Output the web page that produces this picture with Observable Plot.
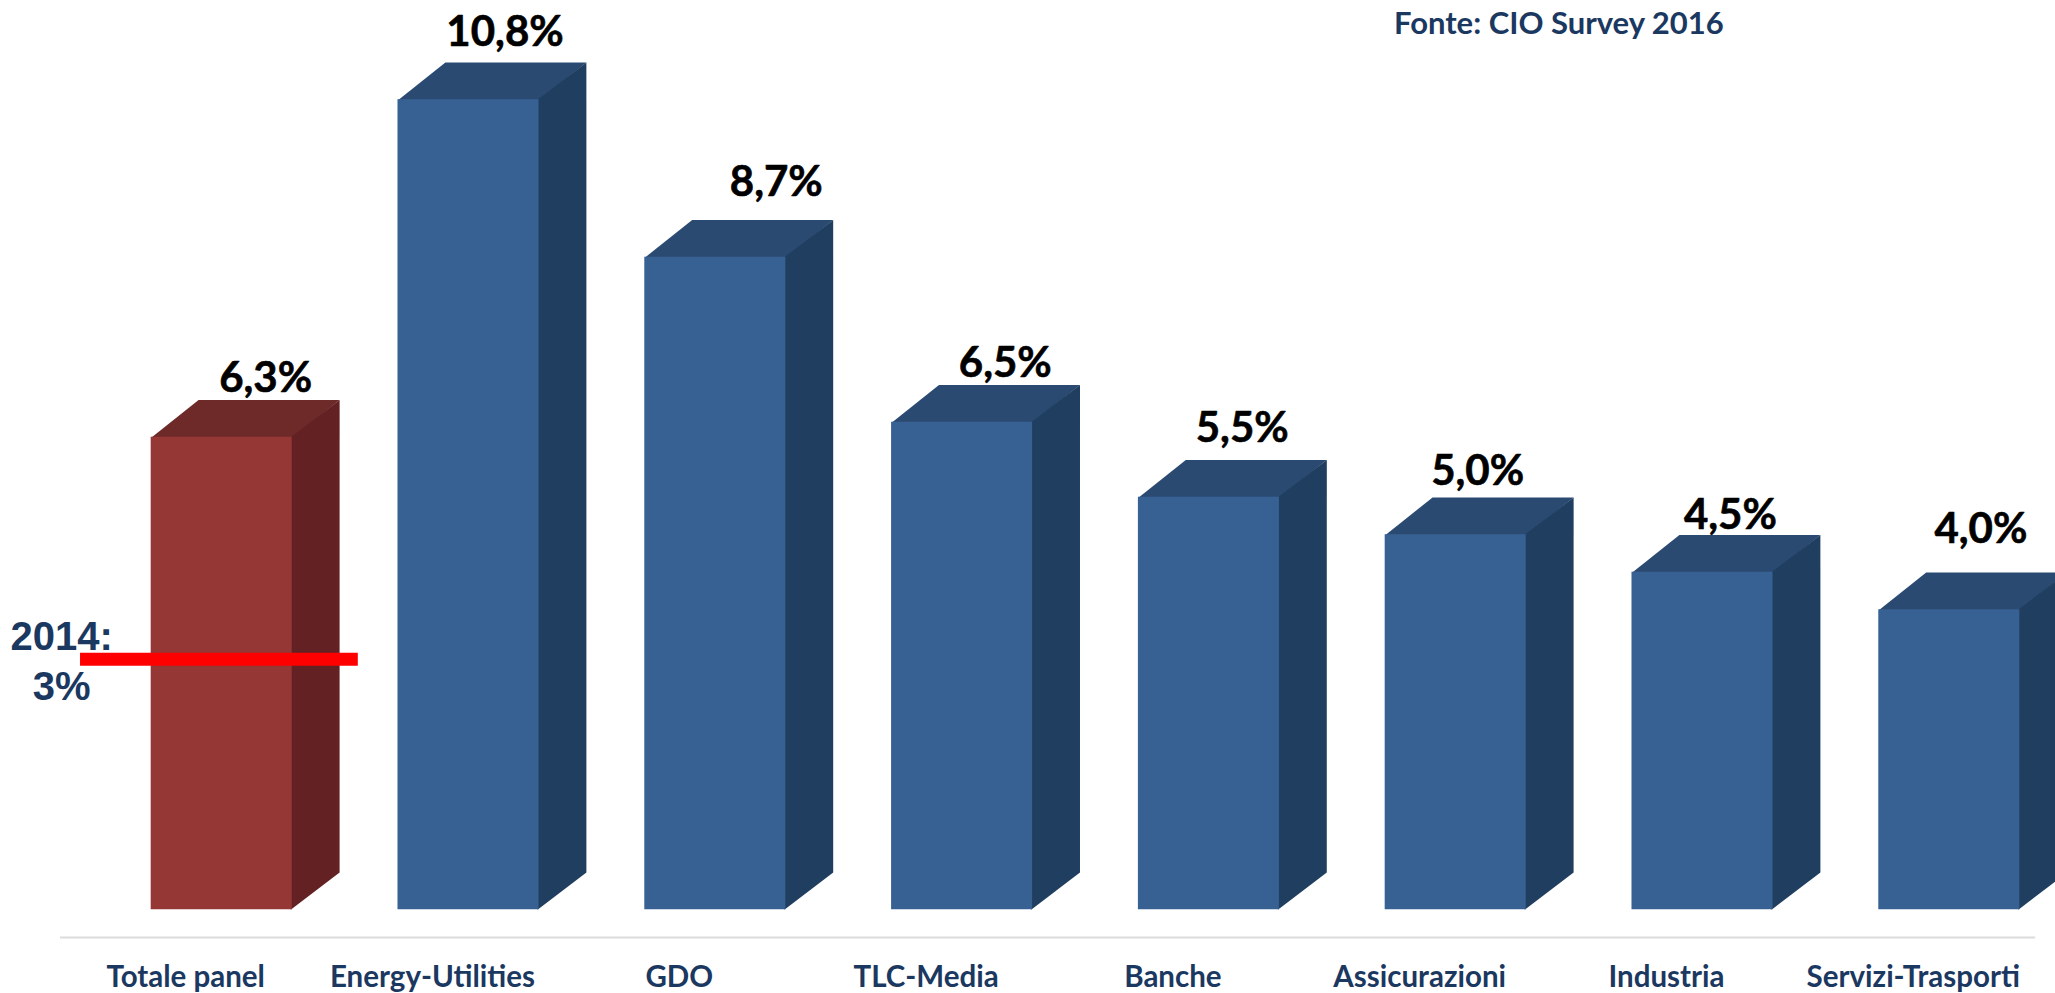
<!DOCTYPE html>
<html>
<head>
<meta charset="utf-8">
<script src="https://cdn.jsdelivr.net/npm/d3@7"></script>
<script src="https://cdn.jsdelivr.net/npm/@observablehq/plot@0.6"></script>
<style>
html,body{margin:0;padding:0;background:#fff;overflow:hidden}
svg{display:block}
</style>
</head>
<body>
<script>
const categories = ["Totale panel","Energy-Utilities","GDO","TLC-Media","Banche","Assicurazioni","Industria","Servizi-Trasporti"];
const values = [6.3,10.8,8.7,6.5,5.5,5.0,4.5,4.0];
const valueLabels = ["6,3%","10,8%","8,7%","6,5%","5,5%","5,0%","4,5%","4,0%"];
const previousLabel = "2014:\n3%";
const previousLevel = 3.34;
const source = "Fonte: CIO Survey 2016";

// Drawing parameters, in scale units
const halfBar = 0.2857, depthX = 0.192, depthY = 0.497, overlap = 0.006;
const labelShiftX = [.178,.148,.247,.175,.135,.089,.113,.128];
const labelShiftY = [.60,.71,.82,.60,.74,.66,.58,.89];

const FRONT = ["#953735","#386193"], TOP = ["#6e2a28","#2b4a72"], SIDE = ["#632123","#203e5f"];
const NAVY = "#1b3861";
const col = (arr,i) => arr[i === 0 ? 0 : 1];

const table = values.map((v,i)=>({i,v,name:categories[i],label:valueLabels[i]}));

const faces = [];
table.forEach(({i,v})=>{
  const l=i-halfBar, r=i+halfBar;
  [[l,v-overlap],[r,v-overlap],[r+depthX,v+depthY],[l+depthX,v+depthY]].forEach(([x,y])=>faces.push({id:"t"+i,x,y,c:col(TOP,i)}));
  [[r-overlap,0],[r-overlap,v],[r+depthX,v+depthY],[r+depthX,depthY]].forEach(([x,y])=>faces.push({id:"s"+i,x,y,c:col(SIDE,i)}));
});

const chart = Plot.plot({
  width:2055, height:993,
  marginTop:0, marginBottom:56, marginLeft:0, marginRight:0,
  style:{background:"#fff",overflow:"hidden"},
  x:{type:"linear",domain:[-0.5,7.5],range:[97.8,2072.2],axis:null},
  y:{type:"linear",domain:[-0.37,12.123],range:[937,0],axis:null},
  color:{type:"identity"},
  marks:[
    Plot.ruleY([-0.37],{x1:-0.653,x2:7.35,stroke:"#dcdcdc",strokeWidth:2}),
    Plot.axisX({
      anchor:"bottom", ticks:d3.range(8), tickSize:0, tickPadding:29, dx:-36, label:null,
      tickFormat:i=>categories[i], fontSize:29.5, fontWeight:700, fontFamily:"Lato", fill:NAVY
    }),
    Plot.line(faces,{x:"x",y:"y",z:"id",fill:"c",stroke:"none"}),
    Plot.rectY(table,{
      x1:d=>d.i-halfBar, x2:d=>d.i+halfBar, y1:0, y2:"v",
      fill:d=>col(FRONT,d.i)
    }),
    Plot.text(table,{
      x:d=>d.i+labelShiftX[d.i], y:d=>d.v+labelShiftY[d.i], text:"label",
      lineAnchor:"bottom", fontFamily:"Lato", fontWeight:700, fontSize:42,
      fill:"#000", stroke:"#000", strokeWidth:0.6
    }),
    Plot.text([previousLabel],{
      x:-0.648, y:3.34, text:d=>d, lineAnchor:"middle", lineHeight:1.23,
      fontFamily:"Liberation Sans", fontWeight:700, fontSize:40, fill:NAVY
    }),
    Plot.ruleY([previousLevel],{x1:-0.572,x2:0.5535,stroke:"#ff0000",strokeWidth:13}),
    Plot.text([source],{
      x:5.418, y:11.68, text:d=>d, lineAnchor:"bottom",
      fontFamily:"Lato", fontWeight:700, fontSize:31, fill:NAVY
    })
  ]
});
document.body.appendChild(chart);
</script>
</body>
</html>
